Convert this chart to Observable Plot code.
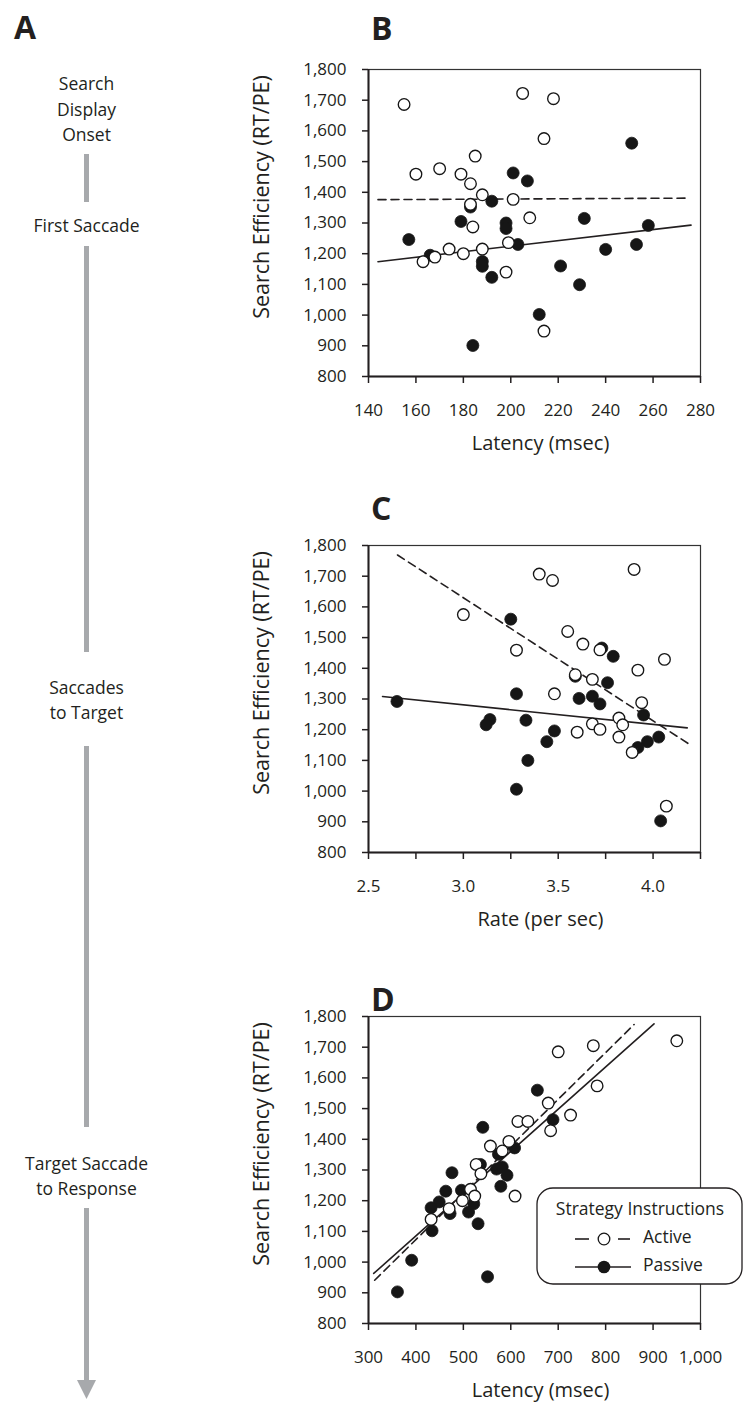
<!DOCTYPE html>
<html>
<head>
<meta charset="utf-8">
<script src="https://cdn.jsdelivr.net/npm/d3@7"></script>
<script src="https://cdn.jsdelivr.net/npm/@observablehq/plot@0.6"></script>
<style>
  html, body { margin: 0; padding: 0; background: #fff; }
  #page { position: relative; width: 744px; height: 1407px; overflow: hidden; font-family: "Open Sans", sans-serif; color: #231f20; }
  .plabel { position: absolute; font-family: "Open Sans", sans-serif; font-weight: 700; font-size: 32px; line-height: 1; color: #231f20; }
</style>
</head>
<body>
<div id="page"></div>
<script>
// ---------- Data ----------
// Panel B: first saccade latency (msec) vs search efficiency
const bLatencyActive = [155, 205, 218, 214, 185, 160, 170, 179, 183, 188, 201, 183, 184, 208, 199, 163, 168, 174, 180, 188, 198, 214];
const bEffActive     = [1686, 1722, 1705, 1575, 1518, 1459, 1477, 1459, 1428, 1392, 1377, 1361, 1287, 1317, 1236, 1174, 1189, 1215, 1200, 1215, 1140, 948];
const bLatencyPassive = [251, 201, 207, 192, 183, 179, 198, 198, 231, 258, 157, 166, 203, 188, 188, 192, 221, 240, 253, 229, 212, 184];
const bEffPassive     = [1560, 1463, 1437, 1371, 1352, 1305, 1300, 1282, 1315, 1292, 1246, 1195, 1230, 1175, 1159, 1123, 1160, 1214, 1230, 1099, 1002, 901];
const bFitActiveX = [144, 274.5], bFitActiveY = [1376, 1381];
const bFitPassiveX = [144, 276], bFitPassiveY = [1174, 1293];

// Panel C: saccade rate (per sec) vs search efficiency
const cRateActive = [3.90, 3.40, 3.47, 3.00, 3.55, 3.63, 3.28, 3.72, 4.06, 3.92, 3.59, 3.68, 3.48, 3.94, 3.82, 3.84, 3.68, 3.72, 3.60, 3.82, 3.89, 4.07];
const cEffActive  = [1722, 1707, 1686, 1575, 1520, 1479, 1459, 1460, 1429, 1394, 1379, 1364, 1317, 1288, 1238, 1216, 1219, 1201, 1192, 1176, 1126, 951];
const cRatePassive = [3.25, 3.73, 3.79, 3.59, 3.76, 3.28, 3.61, 3.68, 3.72, 2.65, 3.14, 3.12, 3.33, 3.48, 3.44, 3.95, 4.03, 3.97, 3.92, 3.34, 3.28, 4.04];
const cEffPassive  = [1560, 1466, 1439, 1374, 1353, 1317, 1302, 1309, 1284, 1292, 1233, 1216, 1231, 1196, 1161, 1248, 1176, 1161, 1142, 1100, 1006, 903];
const cFitActiveX = [2.653, 4.185], cFitActiveY = [1769, 1155];
const cFitPassiveX = [2.574, 4.18], cFitPassiveY = [1308, 1206];

// Panel D: target saccade to response latency (msec) vs search efficiency
const dLatencyActive = [950, 774, 700, 782, 679, 726, 615, 636, 684, 596, 557, 582, 527, 537, 609, 515, 524, 498, 470, 432];
const dEffActive     = [1721, 1705, 1685, 1574, 1518, 1479, 1458, 1458, 1428, 1393, 1378, 1362, 1318, 1288, 1215, 1237, 1215, 1200, 1174, 1139];
const dLatencyPassive = [656, 689, 541, 608, 574, 536, 570, 582, 592, 476, 579, 463, 496, 449, 432, 522, 472, 511, 531, 434, 391, 551, 361];
const dEffPassive     = [1560, 1464, 1439, 1372, 1351, 1318, 1303, 1310, 1283, 1291, 1247, 1231, 1234, 1196, 1177, 1190, 1158, 1163, 1125, 1102, 1006, 952, 903];
const dFitActiveX = [313, 860], dFitActiveY = [941, 1774];
const dFitPassiveX = [311, 902], dFitPassiveY = [963, 1776];

// Axis ticks
const effTicks = d3.range(800, 1801, 100);
const bTicks = d3.range(140, 281, 20);
const cTicks = d3.range(2.5, 4.26, 0.25);
const dTicks = d3.range(300, 1001, 100);

// Panel A: timeline stages
const stageLabels = ["Search\nDisplay\nOnset", "First Saccade", "Saccades\nto Target", "Target Saccade\nto Response"];
const stageAt = [107, 223, 698, 1174];
const segStart = [154, 246, 746, 1208];
const segEnd = [202, 652, 1127, 1383];
const arrowTipAt = [1389];

// ---------- Drawing ----------
const page = document.getElementById("page");
const ink = "#231f20";
const dotInk = "#161616";

function place(node, left, top) {
  node.style.position = "absolute";
  node.style.left = left + "px";
  node.style.top = top + "px";
  page.appendChild(node);
}

function toRows(xs, ys) { return xs.map((x, i) => ({x, y: ys[i]})); }

function panel(o) {
  const active = toRows(o.ax, o.ay);
  const passive = toRows(o.px, o.py);
  const fitA = toRows(o.fax, o.fay);
  const fitP = toRows(o.fpx, o.fpy);
  return Plot.plot({
    width: 720,
    height: 421,
    marginLeft: 368,
    marginRight: 20,
    marginTop: 29,
    marginBottom: 85,
    x: {domain: o.xDomain},
    y: {domain: [800, 1800]},
    style: {fontFamily: "Open Sans", fontSize: "17px", color: ink, background: "transparent", overflow: "visible"},
    marks: [
      Plot.frame({stroke: "#333", strokeWidth: 1.2}),
      Plot.axisY({ticks: effTicks, tickFormat: d3.format(","), tickSize: 6, tickPadding: 16, label: null, fontSize: 17, strokeWidth: 1.5}),
      Plot.axisX({ticks: o.xTicks, tickFormat: o.xFormat, tickSize: 7, tickPadding: 20, label: null, fontSize: 17, strokeWidth: 1.5}),
      Plot.ruleX([o.xDomain[0]], {stroke: ink, strokeWidth: 2}),
      Plot.ruleY([800], {stroke: ink, strokeWidth: 2}),
      Plot.line(fitA, {x: "x", y: "y", stroke: ink, strokeWidth: 1.6, strokeDasharray: "8,5"}),
      Plot.line(fitP, {x: "x", y: "y", stroke: ink, strokeWidth: 1.6}),
      Plot.dot(passive, {x: "x", y: "y", r: 6, fill: dotInk, stroke: dotInk, strokeWidth: 0.8}),
      Plot.dot(active, {x: "x", y: "y", r: 5.8, fill: "white", stroke: dotInk, strokeWidth: 1.35}),
      Plot.text(["Search Efficiency (RT/PE)"], {frameAnchor: "left", textAnchor: "middle", rotate: -90, dx: -106, dy: -26, fontSize: 21.5, fill: ink}),
      Plot.text([o.xLabel], {frameAnchor: "bottom", textAnchor: "middle", dx: 6, dy: 73, fontSize: 20, fill: ink})
    ]
  });
}

// Panel A timeline
const downTriangle = {
  draw(ctx, size) {
    const r = Math.sqrt(size / Math.PI);
    ctx.moveTo(-r, -r);
    ctx.lineTo(r, -r);
    ctx.lineTo(0, r);
    ctx.closePath();
  }
};
const gray = "#a7a9ac";
const timeline = Plot.plot({
  width: 172,
  height: 1407,
  margin: 0,
  x: {domain: [0, 1], range: [0, 172], axis: null},
  y: {domain: [0, 1407], range: [0, 1407], axis: null},
  style: {fontFamily: "Open Sans", fontSize: "17.5px", color: ink, background: "transparent"},
  marks: [
    Plot.ruleX(segStart.map((s, i) => ({s, e: segEnd[i]})), {x: () => 0.5, y1: "s", y2: "e", stroke: gray, strokeWidth: 5}),
    Plot.dot(arrowTipAt, {x: () => 0.5, y: d => d, r: 9.5, symbol: downTriangle, fill: gray, stroke: "none"}),
    Plot.text(stageLabels.map((t, i) => ({t, at: stageAt[i]})), {x: () => 0.5, y: "at", text: "t", fontSize: 17.5, lineHeight: 1.45, fill: ink})
  ]
});
place(timeline, 0, 0);

place(panel({
  ax: bLatencyActive, ay: bEffActive, px: bLatencyPassive, py: bEffPassive,
  fax: bFitActiveX, fay: bFitActiveY, fpx: bFitPassiveX, fpy: bFitPassiveY,
  xDomain: [140, 280], xTicks: bTicks, xFormat: d3.format("d"), xLabel: "Latency (msec)"
}), 0, 40);

place(panel({
  ax: cRateActive, ay: cEffActive, px: cRatePassive, py: cEffPassive,
  fax: cFitActiveX, fay: cFitActiveY, fpx: cFitPassiveX, fpy: cFitPassiveY,
  xDomain: [2.5, 4.25], xTicks: cTicks,
  xFormat: d => (Math.round(d * 100) % 50 === 0 ? d3.format(".1f")(d) : ""),
  xLabel: "Rate (per sec)"
}), 0, 516);

place(panel({
  ax: dLatencyActive, ay: dEffActive, px: dLatencyPassive, py: dEffPassive,
  fax: dFitActiveX, fay: dFitActiveY, fpx: dFitPassiveX, fpy: dFitPassiveY,
  xDomain: [300, 1000], xTicks: dTicks, xFormat: d3.format(","), xLabel: "Latency (msec)"
}), 0, 987);

// Panel letters
[["A", 14, 11], ["B", 371, 12], ["C", 371, 492], ["D", 371, 983]].forEach(([t, l, tp]) => {
  const d = document.createElement("div");
  d.className = "plabel";
  d.textContent = t;
  place(d, l, tp);
});

// Legend
const lg = d3.create("svg").attr("width", 208).attr("height", 100)
  .style("font-family", "Open Sans").style("font-size", "17.5px").style("overflow", "visible");
lg.append("rect").attr("x", 1).attr("y", 1).attr("width", 205).attr("height", 96).attr("rx", 16)
  .attr("fill", "white").attr("stroke", ink).attr("stroke-width", 1.3);
lg.append("text").attr("x", 104).attr("y", 23).attr("text-anchor", "middle").attr("dominant-baseline", "middle")
  .attr("fill", ink).text("Strategy Instructions");
// Active row
lg.append("line").attr("x1", 39).attr("x2", 53).attr("y1", 52).attr("y2", 52).attr("stroke", ink).attr("stroke-width", 1.6);
lg.append("line").attr("x1", 82).attr("x2", 94).attr("y1", 52).attr("y2", 52).attr("stroke", ink).attr("stroke-width", 1.6);
lg.append("circle").attr("cx", 68).attr("cy", 52).attr("r", 5.8).attr("fill", "white").attr("stroke", dotInk).attr("stroke-width", 1.3);
lg.append("text").attr("x", 107).attr("y", 51).attr("dominant-baseline", "middle").attr("fill", ink).text("Active");
// Passive row
lg.append("line").attr("x1", 39).attr("x2", 95).attr("y1", 80).attr("y2", 80).attr("stroke", ink).attr("stroke-width", 1.6);
lg.append("circle").attr("cx", 68).attr("cy", 80).attr("r", 6.3).attr("fill", dotInk);
lg.append("text").attr("x", 107).attr("y", 79).attr("dominant-baseline", "middle").attr("fill", ink).text("Passive");
place(lg.node(), 536, 1187);
</script>
</body>
</html>
